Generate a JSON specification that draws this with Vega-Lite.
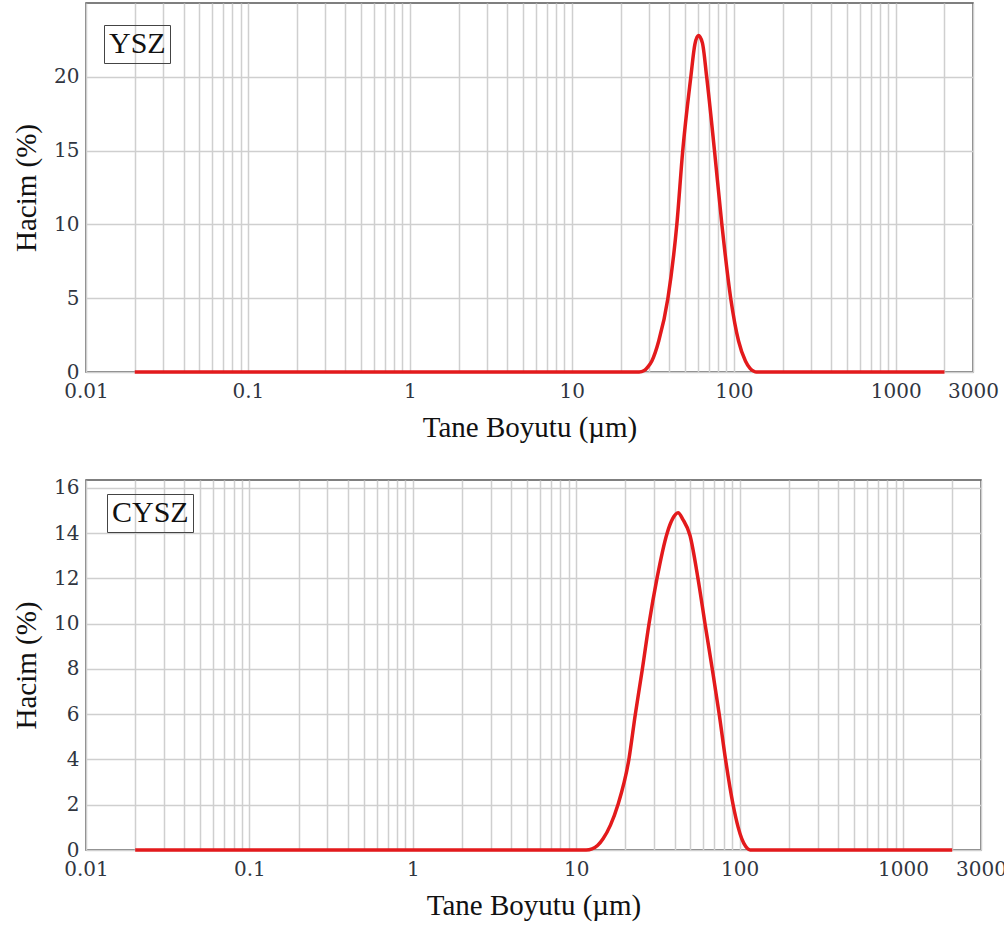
{
  "$schema": "https://vega.github.io/schema/vega-lite/v6.json",
  "padding": {"left": 11, "top": 2, "right": 5, "bottom": 5},
  "background": "white",
  "spacing": 34,
  "resolve": {"scale": {"color": "independent"}, "legend": {"color": "independent"}},
  "config": {
    "view": {"stroke": "#555", "strokeWidth": 1.5},
    "axis": {
      "labelFont": "DejaVu Serif",
      "labelFontSize": 20,
      "labelFontWeight": "normal",
      "labelColor": "#30353f",
      "titleFont": "Liberation Serif",
      "titleFontSize": 29,
      "titleFontWeight": "normal",
      "titleColor": "#111",
      "gridColor": "#cfcfcf",
      "gridWidth": 1.5,
      "tickSize": 0,
      "domain": false
    },
    "legend": {
      "orient": "none",
      "strokeColor": "#444",
      "padding": 4,
      "labelFont": "Liberation Serif",
      "labelFontSize": 30,
      "labelColor": "#111",
      "symbolType": "circle",
      "symbolSize": 0,
      "symbolOpacity": 0,
      "symbolStrokeWidth": 0,
      "title": null
    }
  },
  "datasets": {
    "ysz": [
      {"sample": "YSZ", "size": 0.02, "vol": 0},
      {"sample": "YSZ", "size": 26, "vol": 0},
      {"sample": "YSZ", "size": 28, "vol": 0.1},
      {"sample": "YSZ", "size": 29.5, "vol": 0.35},
      {"sample": "YSZ", "size": 31.2, "vol": 0.75},
      {"sample": "YSZ", "size": 34.4, "vol": 2.1},
      {"sample": "YSZ", "size": 39.2, "vol": 5},
      {"sample": "YSZ", "size": 44.5, "vol": 10},
      {"sample": "YSZ", "size": 48.4, "vol": 15},
      {"sample": "YSZ", "size": 54.3, "vol": 20},
      {"sample": "YSZ", "size": 57.5, "vol": 22.2},
      {"sample": "YSZ", "size": 60.5, "vol": 22.8},
      {"sample": "YSZ", "size": 64, "vol": 22.3},
      {"sample": "YSZ", "size": 68, "vol": 20},
      {"sample": "YSZ", "size": 76, "vol": 15},
      {"sample": "YSZ", "size": 84.4, "vol": 10},
      {"sample": "YSZ", "size": 95.7, "vol": 5},
      {"sample": "YSZ", "size": 107, "vol": 2.1},
      {"sample": "YSZ", "size": 118, "vol": 0.75},
      {"sample": "YSZ", "size": 126, "vol": 0.25},
      {"sample": "YSZ", "size": 133, "vol": 0.05},
      {"sample": "YSZ", "size": 138, "vol": 0},
      {"sample": "YSZ", "size": 2000, "vol": 0}
    ],
    "cysz": [
      {"sample": "CYSZ", "size": 0.02, "vol": 0},
      {"sample": "CYSZ", "size": 11.5, "vol": 0},
      {"sample": "CYSZ", "size": 12.5, "vol": 0.05},
      {"sample": "CYSZ", "size": 13.5, "vol": 0.2},
      {"sample": "CYSZ", "size": 14.6, "vol": 0.5},
      {"sample": "CYSZ", "size": 16.2, "vol": 1.1},
      {"sample": "CYSZ", "size": 18, "vol": 2},
      {"sample": "CYSZ", "size": 21, "vol": 4},
      {"sample": "CYSZ", "size": 23, "vol": 6},
      {"sample": "CYSZ", "size": 25.4, "vol": 8},
      {"sample": "CYSZ", "size": 27.9, "vol": 10},
      {"sample": "CYSZ", "size": 31.2, "vol": 12},
      {"sample": "CYSZ", "size": 36, "vol": 14},
      {"sample": "CYSZ", "size": 39, "vol": 14.65},
      {"sample": "CYSZ", "size": 42, "vol": 14.9},
      {"sample": "CYSZ", "size": 45, "vol": 14.6},
      {"sample": "CYSZ", "size": 49.7, "vol": 13.9},
      {"sample": "CYSZ", "size": 55.6, "vol": 12},
      {"sample": "CYSZ", "size": 61.4, "vol": 10},
      {"sample": "CYSZ", "size": 68, "vol": 8},
      {"sample": "CYSZ", "size": 75, "vol": 6},
      {"sample": "CYSZ", "size": 82, "vol": 4},
      {"sample": "CYSZ", "size": 91.2, "vol": 2},
      {"sample": "CYSZ", "size": 98, "vol": 1},
      {"sample": "CYSZ", "size": 103, "vol": 0.5},
      {"sample": "CYSZ", "size": 109, "vol": 0.15},
      {"sample": "CYSZ", "size": 116, "vol": 0},
      {"sample": "CYSZ", "size": 2000, "vol": 0}
    ]
  },
  "vconcat": [
    {
      "width": 887,
      "height": 369,
      "data": {"name": "ysz"},
      "mark": {"type": "line", "strokeWidth": 3.5, "interpolate": "monotone"},
      "encoding": {
        "x": {
          "field": "size", "type": "quantitative",
          "scale": {"type": "log", "domain": [0.01, 3000], "nice": false},
          "axis": {
            "title": "Tane Boyutu (µm)",
            "values": [0.01,0.02,0.03,0.04,0.05,0.06,0.07,0.08,0.09,0.1,0.2,0.3,0.4,0.5,0.6,0.7,0.8,0.9,1,2,3,4,5,6,7,8,9,10,20,30,40,50,60,70,80,90,100,200,300,400,500,600,700,800,900,1000,2000,3000],
            "format": "~g",
            "labelExpr": "indexof([0.01,0.1,1,10,100,1000,3000], datum.value) >= 0 ? datum.label : ''",
            "labelOverlap": false,
            "labelFlush": false,
            "labelPadding": 9,
            "labelDx": 5,
            "titlePadding": 12
          }
        },
        "y": {
          "field": "vol", "type": "quantitative",
          "scale": {"domain": [0, 25], "nice": false},
          "axis": {"title": "Hacim (%)", "values": [0, 5, 10, 15, 20], "labelPadding": 7, "titlePadding": 12}
        },
        "color": {
          "field": "sample", "type": "nominal",
          "scale": {"domain": ["YSZ"], "range": ["#e31a1c"]},
          "legend": {"legendX": 18, "legendY": 22, "symbolType": "circle", "symbolSize": 0, "labelOffset": -29}
        }
      }
    },
    {
      "width": 895,
      "height": 370,
      "data": {"name": "cysz"},
      "mark": {"type": "line", "strokeWidth": 3.5, "interpolate": "monotone"},
      "encoding": {
        "x": {
          "field": "size", "type": "quantitative",
          "scale": {"type": "log", "domain": [0.01, 3000], "nice": false},
          "axis": {
            "title": "Tane Boyutu (µm)",
            "values": [0.01,0.02,0.03,0.04,0.05,0.06,0.07,0.08,0.09,0.1,0.2,0.3,0.4,0.5,0.6,0.7,0.8,0.9,1,2,3,4,5,6,7,8,9,10,20,30,40,50,60,70,80,90,100,200,300,400,500,600,700,800,900,1000,2000,3000],
            "format": "~g",
            "labelExpr": "indexof([0.01,0.1,1,10,100,1000,3000], datum.value) >= 0 ? datum.label : ''",
            "labelOverlap": false,
            "labelFlush": false,
            "labelPadding": 9,
            "labelDx": 5,
            "titlePadding": 12
          }
        },
        "y": {
          "field": "vol", "type": "quantitative",
          "scale": {"domain": [0, 16.35], "nice": false},
          "axis": {"title": "Hacim (%)", "values": [0, 2, 4, 6, 8, 10, 12, 14, 16], "labelPadding": 7, "titlePadding": 12}
        },
        "color": {
          "field": "sample", "type": "nominal",
          "scale": {"domain": ["CYSZ"], "range": ["#e31a1c"]},
          "legend": {"legendX": 21, "legendY": 14, "symbolType": "circle", "symbolSize": 0, "labelOffset": -29}
        }
      }
    }
  ]
}
